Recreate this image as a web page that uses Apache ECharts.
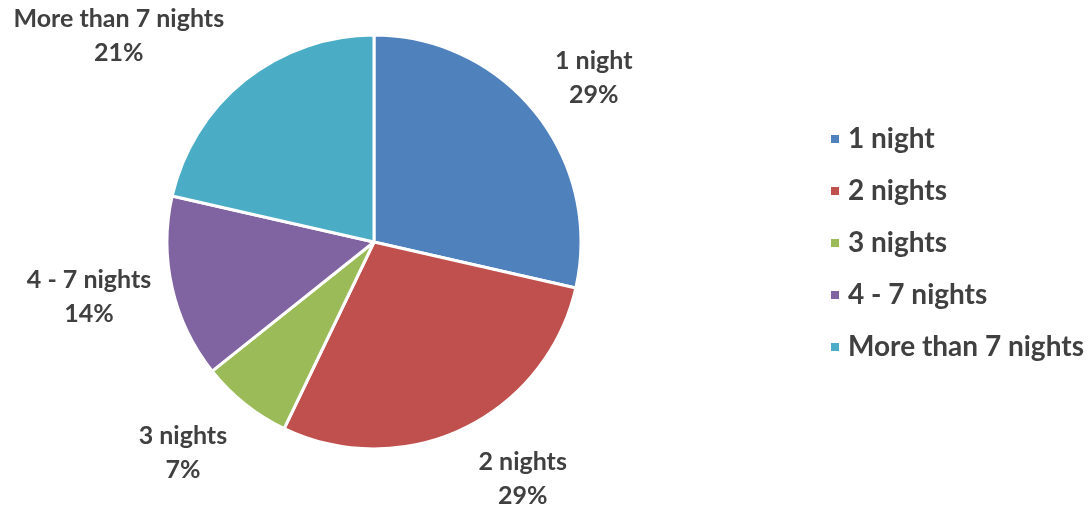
<!DOCTYPE html>
<html>
<head>
<meta charset="utf-8">
<script src="https://cdn.jsdelivr.net/npm/echarts@6/dist/echarts.min.js"></script>
<style>html,body{margin:0;padding:0;background:#fff;}#c{width:1089px;height:508px;}</style>
</head>
<body>
<div id="c"></div>
<script>
const categories = ['1 night', '2 nights', '3 nights', '4 - 7 nights', 'More than 7 nights'];
const counts = [4, 4, 1, 2, 3];
const colors = ['#4F81BD', '#C0504D', '#9BBB59', '#8064A2', '#4BACC6'];

const CX = 374, CY = 242, R = 207;
// small nudges to mimic spreadsheet label placement
const labelNudge = [[12, -1], [31, 1.5], [-22, 6.5], [-3, -3], [-48, -2]];

const total = counts.reduce((a, b) => a + b, 0);
const midAngles = [];
let acc = 0;
counts.forEach(v => { midAngles.push((acc + v / 2) / total * 2 * Math.PI); acc += v; });

const chart = echarts.init(document.getElementById('c'), null, {renderer: 'canvas'});
chart.setOption({
  animation: false,
  color: colors,
  legend: {
    orient: 'vertical',
    left: 824,
    top: 120,
    icon: 'rect',
    itemWidth: 10,
    itemHeight: 10,
    itemGap: 24,
    textStyle: {fontFamily: 'Lato', fontWeight: 'bold', fontSize: 28, color: '#404040', lineHeight: 28, padding: [0, 0, 0, 3]},
    data: categories
  },
  series: [{
    type: 'pie',
    center: [CX, CY],
    radius: R,
    startAngle: 90,
    clockwise: true,
    itemStyle: {borderColor: '#fff', borderWidth: 3},
    label: {
      show: true,
      position: 'outside',
      overflow: 'none',
      fontFamily: 'Lato',
      fontWeight: 'bold',
      fontSize: 25,
      lineHeight: 34,
      color: '#404040',
      align: 'center',
      formatter: p => p.name + '\n' + Math.round(p.percent) + '%'
    },
    labelLine: {show: false},
    labelLayout: function (p) {
      const i = p.dataIndex;
      const a = midAngles[i];
      const dx = Math.sin(a), dy = -Math.cos(a);
      const w = p.labelRect.width, h = p.labelRect.height;
      const g = 20;
      const x = CX + dx * (R + g) + dx * w / 2 + labelNudge[i][0];
      const y = CY + dy * (R + g) + dy * h / 2 + labelNudge[i][1];
      return {x: x, y: y, align: 'center', verticalAlign: 'middle'};
    },
    data: categories.map((n, i) => ({name: n, value: counts[i]}))
  }]
});
</script>
</body>
</html>
